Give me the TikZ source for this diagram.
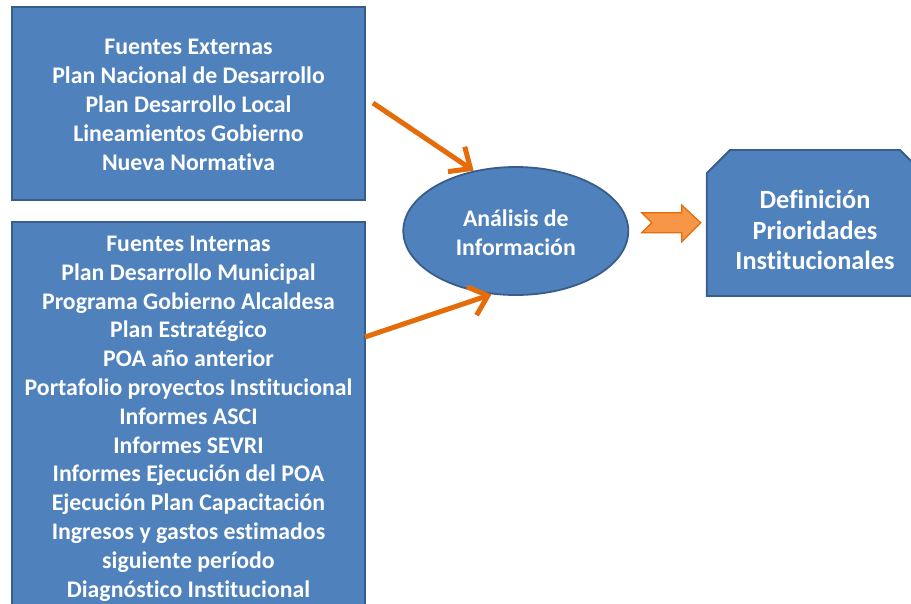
\documentclass[tikz,border=0pt]{standalone}
\usepackage{fontspec}
\setmainfont{Carlito}[Ligatures={NoCommon,NoContextual,NoRare,NoRequired},Contextuals={NoAlternate}]
\usetikzlibrary{shapes.geometric,arrows.meta}
\definecolor{boxfill}{HTML}{4F81BD}
\definecolor{boxline}{HTML}{385D8A}
\definecolor{arrorange}{HTML}{E46C0A}
\definecolor{blockorange}{HTML}{F79646}
\tikzset{
  bluebox/.style={draw=boxline, fill=boxfill, line width=1.8pt, inner sep=0pt},
  boxtext/.style={text=white, font=\fontsize{23.8}{28.8}\selectfont\bfseries, align=center, inner sep=0pt},
  bigtext/.style={text=white, font=\fontsize{26.3}{30.5}\selectfont\bfseries, align=center, inner sep=0pt},
  feed/.style={draw=arrorange, line width=5pt, -{Straight Barb[length=17pt,width=30pt]}},
}
\begin{document}
\begin{tikzpicture}[x=1pt,y=-1pt]
\clip (0,0) rectangle (911,603);
\fill[white] (0,0) rectangle (911,603);
% left boxes
\node[bluebox, rectangle, minimum width=353pt, minimum height=193pt] (ext) at (188.5,103.5) {};
\node[boxtext] (exttext) at (188.5,104.8) {Fuentes Externas\\Plan Nacional de Desarrollo\\Plan Desarrollo Local\\Lineamientos Gobierno\\Nueva Normativa};
\node[bluebox, rectangle, minimum width=353pt, minimum height=400pt] (int) at (188.5,422) {};
\node[boxtext] (inttext) at (188.5,418.5) {Fuentes Internas\\Plan Desarrollo Municipal\\Programa Gobierno Alcaldesa\\Plan Estratégico\\POA año anterior\\Portafolio proyectos Institucional\\Informes ASCI\\Informes SEVRI\\Informes Ejecución del POA\\Ejecución Plan Capacitación\\Ingresos y gastos estimados\\siguiente período\\Diagnóstico Institucional};
% ellipse
\node[bluebox, ellipse, minimum width=225pt, minimum height=128pt] (ana) at (515.8,231) {};
\node[boxtext] (anatext) at (515.8,233) {Análisis de\\Información};
% connectors
\coordinate (s1) at (373,103);
\coordinate (s2) at (365,337);
\draw[feed] (s1) -- (ana.125);
\draw[feed] (s2) -- (ana.249);
% block arrow
\draw[draw=arrorange, fill=blockorange, line width=1.2pt, line join=miter]
  (641.7,212.7) -- (681.7,212.7) -- (681.7,205) -- (700.7,222.7) -- (681.7,241.7) -- (681.7,232.7) -- (641.7,232.7) -- (651.7,222.7) -- cycle;
% snipped box
\draw[bluebox] (706.7,173.3) -- (730,150) -- (900,150) -- (923,173) -- (923,296) -- (706.7,296) -- cycle;
\node[bigtext] (def) at (815,230) {Definición\\Prioridades\\Institucionales};
\end{tikzpicture}
\end{document}
